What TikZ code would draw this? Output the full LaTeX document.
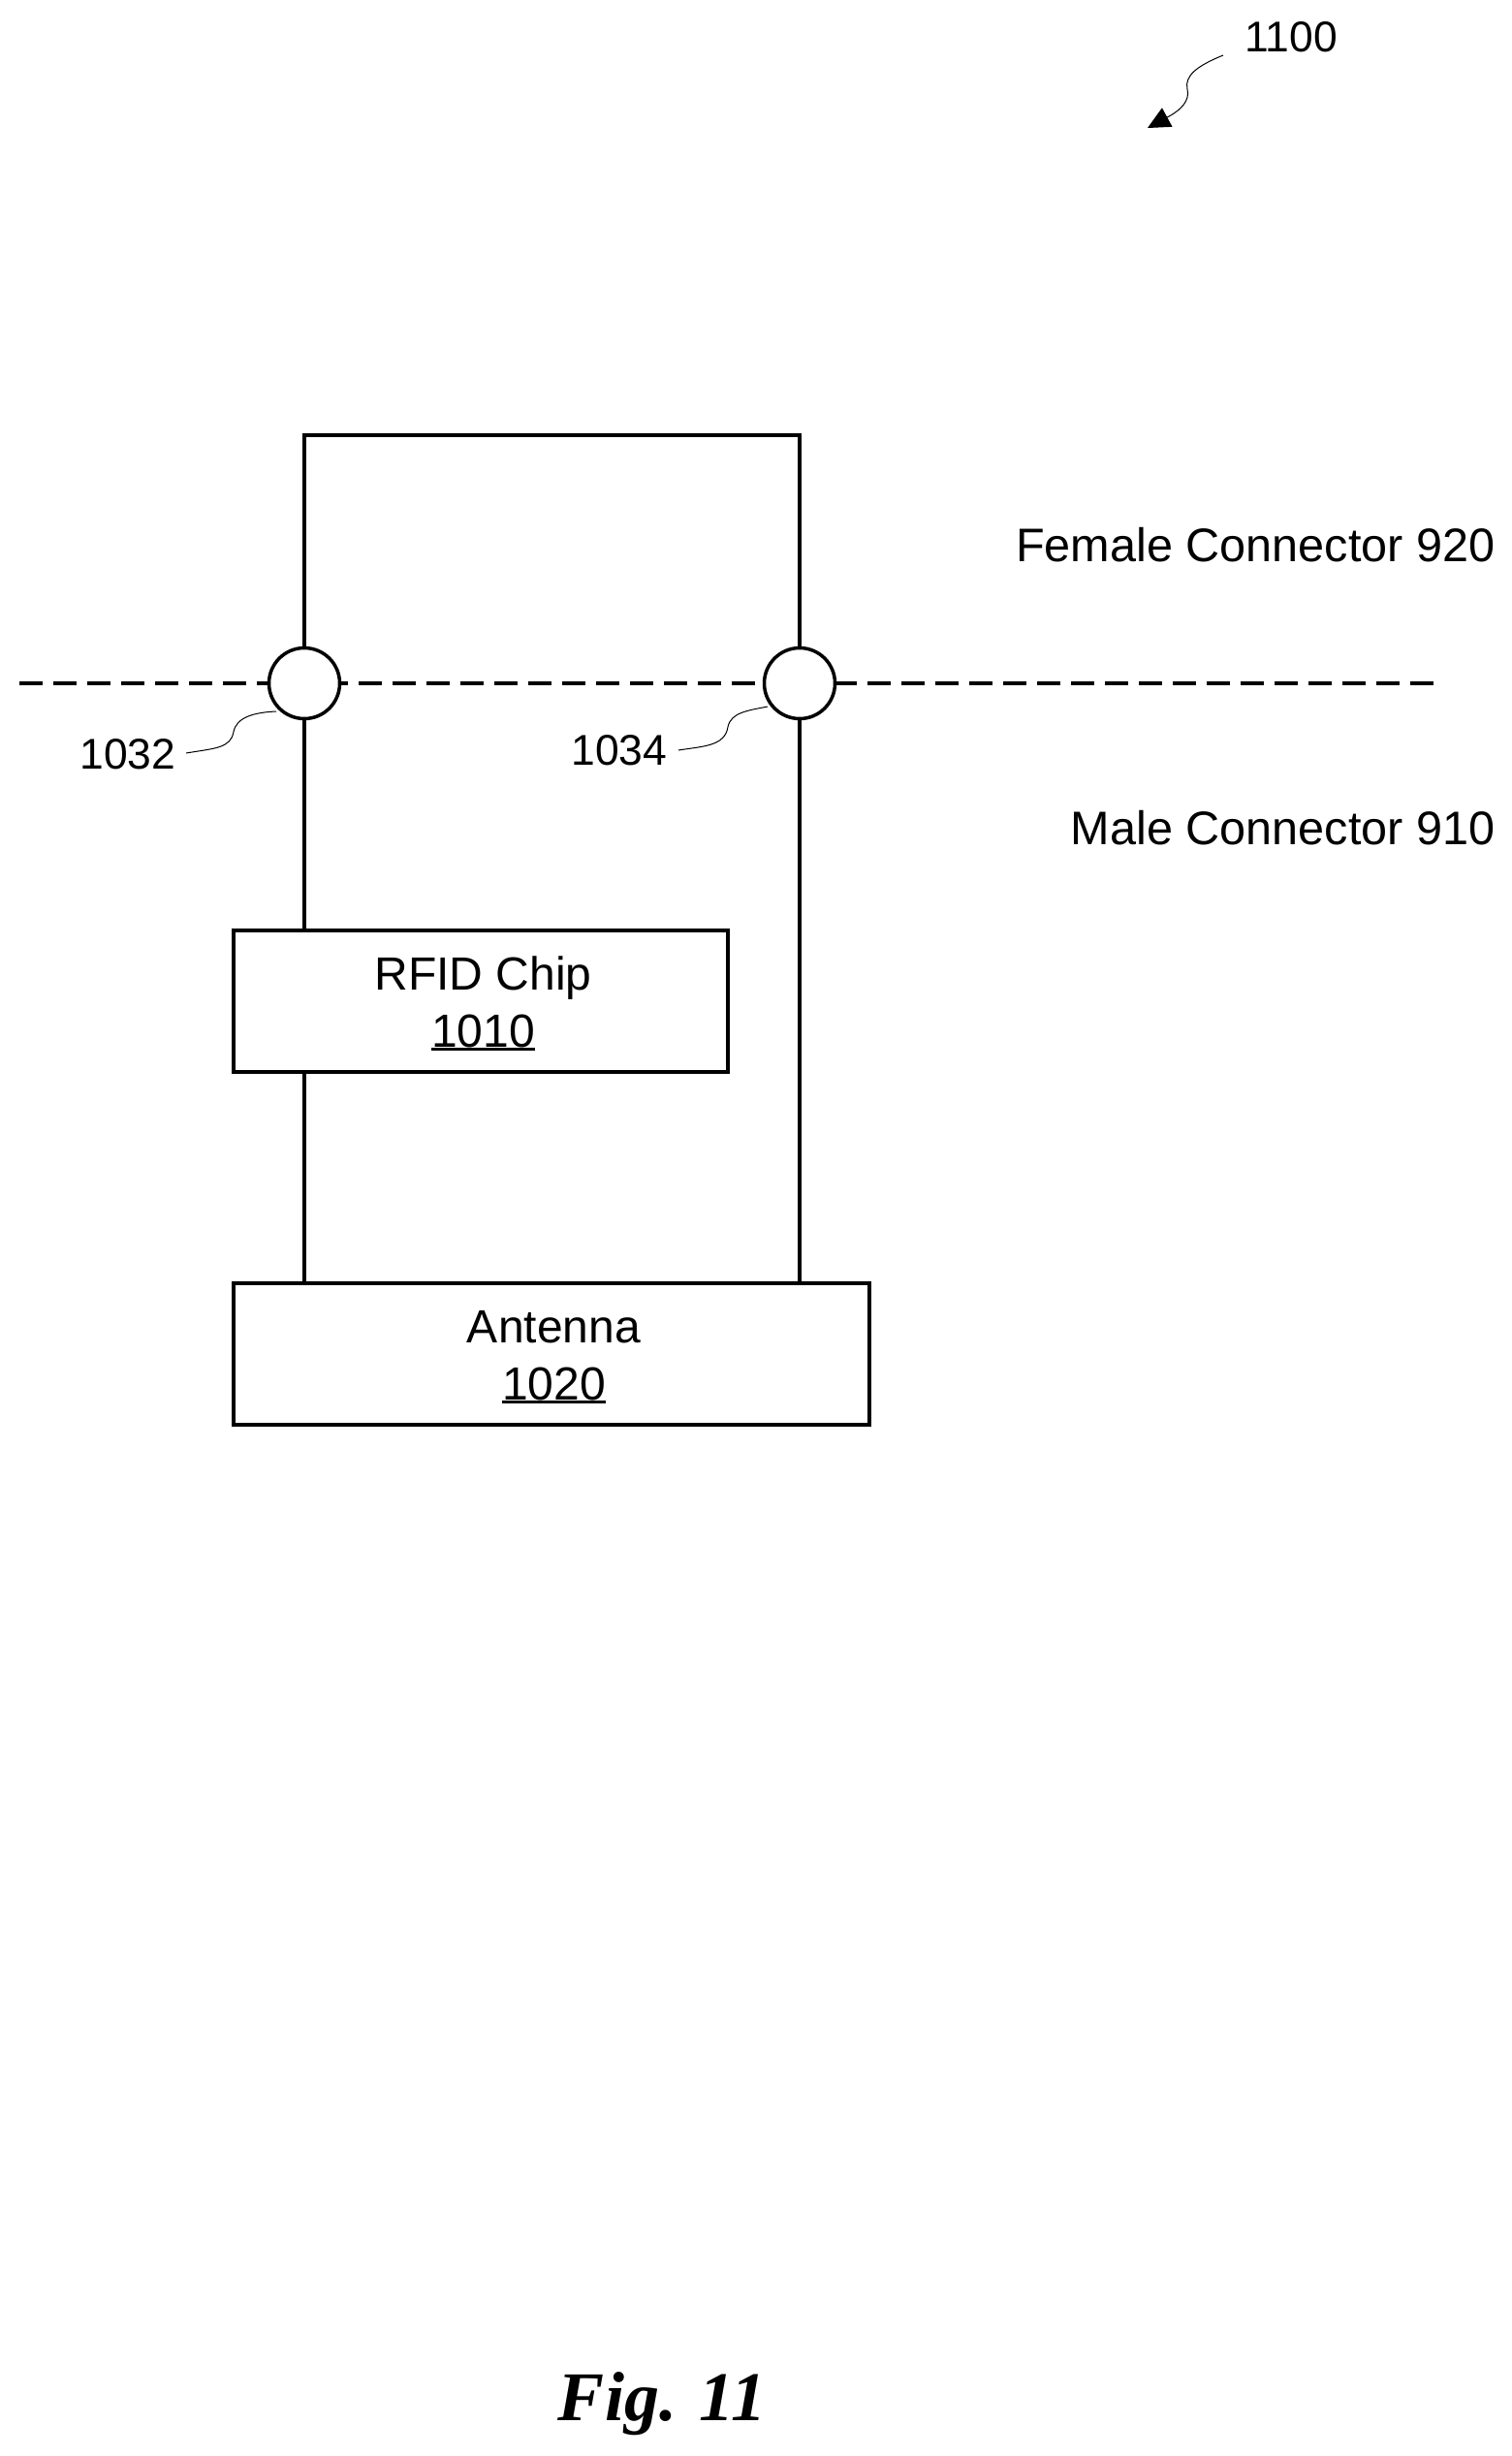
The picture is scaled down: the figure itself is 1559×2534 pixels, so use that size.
\documentclass[tikz,border=0pt]{standalone}
\usepackage{fontspec}
\setmainfont{Liberation Sans}
\newfontfamily\figfont{Liberation Serif}
\usetikzlibrary{arrows.meta, positioning}

\newcommand{\numline}[1]{\setbox0\hbox{#1}\rlap{\rule[-1.5pt]{\wd0}{1.5pt}}\box0}
\newcommand{\blocktext}[2]{\hspace*{2.4pt}\rule{0pt}{19.5pt}#1\\\hspace*{2.4pt}\numline{#2}}

\tikzset{
  wire/.style={draw=black, line width=2pt},
  block/.style={draw=black, line width=2pt, rectangle, align=center, minimum height=73pt, inner sep=0pt, font=\fontsize{24}{29.5}\selectfont},
  pin/.style={draw=black, line width=1.75pt, circle, fill=white, minimum size=36.5pt, inner sep=0pt},
  side/.style={anchor=base east, inner sep=0pt, font=\fontsize{24.3}{29}\selectfont},
  ref/.style={anchor=base, inner sep=0pt, font=\fontsize{22.2}{27}\selectfont},
  leader/.style={draw=black, line width=0.5pt}
}

\begin{document}
\begin{tikzpicture}[x=0.5pt,y=-0.5pt]
\useasboundingbox (0,0) rectangle (1559,2534);

\coordinate (DL) at (20,705);
\coordinate (DR) at (1479,705);
\draw [line width=2pt, dash pattern=on 12pt off 5.5pt] (DL) -- (DR);

\node[pin] (C1) at (314,705) {};
\node[pin] (C2) at (825,705) {};
\node[block, minimum width=255pt] (Chip) at (496,1033) {\blocktext{RFID Chip}{1010}};
\node[block, minimum width=328pt] (Ant) at (569,1397) {\blocktext{Antenna}{1020}};

\coordinate (TL) at (314,449);
\coordinate (TR) at (825,449);
\draw [wire] (C1) -- (TL) -- (TR) -- (C2);
\draw [wire] (C1) -- (C1 |- Chip.north);
\draw [wire] (C1 |- Chip.south) -- (C1 |- Ant.north);
\draw [wire] (C2) -- (C2 |- Ant.north);

\node[side] (Fem) at (1543,579) {Female Connector 920};
\node[side] (Mal) at (1543,871) {Male Connector 910};

\node[ref] (R1100) at (1332,53) {1100};
\node[ref] (R1032) at (132,793) {1032};
\node[ref] (R1034) at (639,789) {1034};

%leaders
\coordinate (P0) at (1262,57);
\coordinate (Q0) at (1184,132);
\draw [leader, -{Triangle[length=11.5pt,width=11pt]}] (P0) .. controls (1235,68) and (1222,78) .. (1225,92) .. controls (1228,104) and (1218,113) .. (1208,119) -- (Q0);
\coordinate (P1) at (192,777);
\coordinate (Q1) at (285,734);
\draw [leader] (P1) .. controls (222,772) and (238,772) .. (241,755) .. controls (244,740) and (262,735) .. (Q1);
\coordinate (P2) at (700,774);
\coordinate (Q2) at (792,729);
\draw [leader] (P2) .. controls (725,770) and (748,770) .. (751,750) .. controls (754,735) and (772,733) .. (Q2);

\node[anchor=base, inner sep=0pt, font=\fontsize{36}{40}\selectfont\figfont\bfseries\itshape] (Fig) at (683,2497) {Fig. 11};
\end{tikzpicture}
\end{document}
